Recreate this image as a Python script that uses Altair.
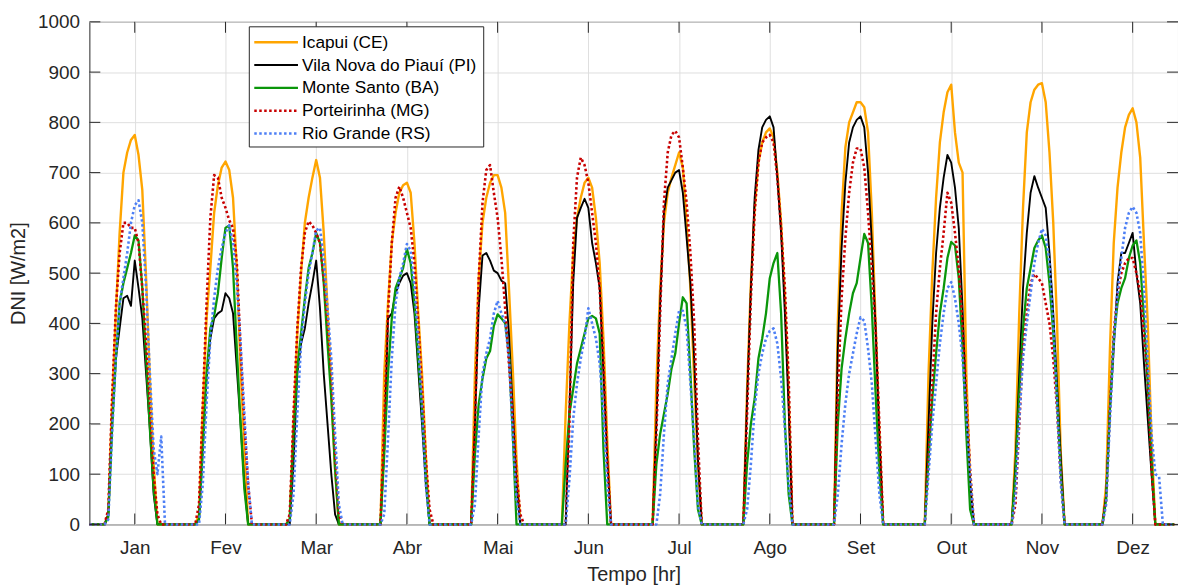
import altair as alt
import pandas as pd

# Mean daily DNI profile for each month (hourly values, W/m2)
MONTHS = ["Jan", "Fev", "Mar", "Abr", "Mai", "Jun", "Jul", "Ago", "Set", "Out", "Nov", "Dez"]
SERIES = ["Icapui (CE)", "Vila Nova do Piauí (PI)", "Monte Santo (BA)",
          "Porteirinha (MG)", "Rio Grande (RS)"]
COLORS = ["#FFA500", "#000000", "#0A960A", "#C80000", "#4D7FF5"]
DOTTED = [False, False, False, True, True]
WIDTHS = [2.4, 1.9, 2.3, 2.6, 2.6]
Y_TICKS = [0, 100, 200, 300, 400, 500, 600, 700, 800, 900, 1000]

# each month lists hours 04..20; the remaining hours are night (0)
FIRST_HOUR = 4

ICAPUI = [
    [0, 20, 240, 420, 580, 700, 740, 765, 775, 735, 665, 490, 290, 120, 0, 0, 0],
    [0, 20, 230, 410, 510, 620, 675, 710, 722, 705, 650, 510, 310, 150, 0, 0, 0],
    [0, 10, 200, 380, 500, 600, 650, 690, 725, 690, 580, 430, 270, 110, 0, 0, 0],
    [0, 0, 300, 440, 560, 620, 660, 675, 680, 660, 560, 420, 300, 140, 0, 0, 0],
    [0, 0, 300, 490, 600, 650, 680, 695, 695, 670, 620, 470, 310, 130, 0, 0, 0],
    [0, 0, 220, 400, 540, 610, 650, 680, 690, 670, 610, 520, 370, 170, 0, 0, 0],
    [0, 0, 280, 470, 600, 660, 690, 715, 740, 710, 600, 470, 290, 120, 0, 0, 0],
    [0, 0, 270, 480, 630, 720, 760, 780, 788, 770, 700, 600, 450, 260, 0, 0, 0],
    [0, 0, 400, 620, 750, 800, 820, 840, 840, 830, 780, 620, 400, 180, 0, 0, 0],
    [0, 0, 300, 500, 650, 760, 820, 860, 875, 780, 720, 700, 300, 90, 0, 0, 0],
    [0, 150, 420, 630, 780, 840, 865, 875, 878, 840, 740, 600, 400, 140, 0, 0, 0],
    [0, 80, 350, 560, 670, 740, 790, 815, 828, 800, 730, 560, 400, 170, 0, 0, 0],
]
VILA_NOVA = [
    [0, 20, 200, 330, 390, 450, 455, 435, 525, 470, 410, 300, 190, 60, 0, 0, 0],
    [0, 10, 150, 290, 370, 410, 420, 425, 460, 450, 420, 310, 200, 80, 0, 0, 0],
    [0, 0, 120, 300, 360, 390, 440, 480, 525, 430, 300, 200, 100, 20, 0, 0, 0],
    [0, 0, 150, 410, 420, 460, 480, 495, 500, 480, 420, 310, 200, 80, 0, 0, 0],
    [0, 0, 200, 430, 535, 540, 525, 505, 500, 485, 480, 380, 230, 80, 0, 0, 0],
    [0, 0, 0, 230, 480, 610, 630, 648, 630, 560, 520, 470, 300, 130, 0, 0, 0],
    [0, 0, 200, 440, 620, 670, 685, 700, 705, 660, 570, 480, 330, 130, 0, 0, 0],
    [0, 0, 250, 470, 650, 745, 790, 805, 812, 790, 690, 580, 420, 230, 0, 0, 0],
    [0, 0, 350, 550, 680, 760, 790, 805, 812, 790, 700, 560, 390, 170, 0, 0, 0],
    [0, 0, 200, 400, 540, 630, 690, 735, 720, 670, 590, 430, 220, 80, 0, 0, 0],
    [0, 120, 300, 470, 580, 660, 693, 670, 650, 630, 540, 420, 280, 130, 0, 0, 0],
    [0, 60, 230, 350, 480, 540, 540, 560, 580, 500, 440, 320, 210, 100, 0, 0, 0],
]
MONTE_SANTO = [
    [0, 15, 190, 330, 440, 480, 510, 540, 575, 565, 470, 330, 190, 70, 0, 0, 0],
    [0, 10, 150, 300, 390, 415, 460, 530, 590, 595, 510, 350, 200, 70, 0, 0, 0],
    [0, 10, 180, 310, 380, 450, 510, 540, 580, 560, 480, 360, 250, 110, 0, 0, 0],
    [0, 0, 140, 300, 410, 470, 490, 510, 548, 520, 440, 330, 230, 100, 0, 0, 0],
    [0, 0, 140, 240, 290, 330, 345, 395, 418, 410, 400, 340, 180, 0, 0, 0, 0],
    [0, 0, 120, 220, 270, 320, 350, 380, 410, 415, 410, 380, 150, 0, 0, 0, 0],
    [0, 0, 120, 180, 220, 260, 310, 340, 400, 452, 440, 300, 150, 30, 0, 0, 0],
    [0, 0, 120, 200, 250, 330, 370, 420, 490, 520, 540, 420, 200, 60, 0, 0, 0],
    [0, 0, 200, 310, 370, 420, 460, 480, 530, 578, 560, 430, 260, 100, 0, 0, 0],
    [0, 0, 130, 250, 340, 420, 470, 530, 562, 555, 490, 350, 180, 30, 0, 0, 0],
    [0, 100, 260, 390, 470, 510, 550, 565, 575, 550, 480, 380, 250, 100, 0, 0, 0],
    [0, 50, 230, 370, 440, 470, 490, 530, 555, 565, 520, 410, 280, 130, 0, 0, 0],
]
PORTEIRINHA = [
    [0, 30, 250, 430, 540, 600, 600, 590, 590, 560, 470, 360, 240, 100, 20, 0, 0],
    [0, 40, 240, 440, 610, 695, 690, 650, 630, 605, 590, 520, 350, 200, 80, 0, 0],
    [0, 20, 220, 390, 510, 580, 603, 595, 580, 560, 490, 400, 300, 140, 20, 0, 0],
    [0, 0, 200, 420, 560, 650, 672, 650, 620, 590, 520, 400, 270, 130, 30, 0, 0],
    [0, 0, 200, 490, 640, 705, 715, 660, 610, 530, 430, 320, 220, 100, 20, 0, 0],
    [0, 0, 0, 200, 560, 690, 730, 715, 680, 620, 560, 470, 320, 130, 0, 0, 0],
    [0, 0, 180, 420, 640, 740, 775, 783, 770, 710, 640, 540, 400, 170, 0, 0, 0],
    [0, 0, 220, 450, 620, 720, 760, 770, 775, 760, 690, 590, 470, 290, 0, 0, 0],
    [0, 0, 260, 450, 570, 660, 720, 748, 748, 710, 620, 510, 390, 200, 0, 0, 0],
    [0, 0, 130, 280, 420, 510, 580, 660, 640, 580, 510, 400, 250, 110, 0, 0, 0],
    [0, 40, 200, 350, 420, 480, 498, 490, 480, 440, 400, 330, 230, 90, 0, 0, 0],
    [0, 50, 230, 380, 460, 500, 520, 530, 530, 500, 460, 380, 290, 110, 0, 0, 0],
]
RIO_GRANDE = [
    [0, 10, 180, 330, 440, 490, 540, 600, 635, 645, 600, 470, 300, 150, 100, 175, 0],
    [0, 0, 80, 240, 370, 450, 510, 550, 580, 595, 560, 480, 360, 220, 80, 0, 0],
    [0, 0, 60, 220, 360, 440, 500, 540, 585, 590, 530, 430, 330, 180, 40, 0, 0],
    [0, 0, 20, 170, 330, 440, 490, 520, 558, 545, 470, 360, 230, 80, 0, 0, 0],
    [0, 0, 40, 180, 300, 340, 370, 420, 445, 420, 400, 330, 180, 50, 0, 0, 0],
    [0, 0, 0, 90, 210, 280, 330, 370, 430, 400, 370, 320, 220, 80, 0, 0, 0],
    [0, 0, 0, 60, 180, 280, 330, 380, 425, 425, 390, 280, 170, 40, 0, 0, 0],
    [0, 0, 30, 120, 230, 300, 340, 370, 385, 390, 360, 290, 190, 80, 0, 0, 0],
    [0, 0, 60, 160, 240, 300, 340, 380, 412, 405, 350, 280, 170, 60, 0, 0, 0],
    [0, 0, 100, 200, 280, 360, 420, 470, 482, 450, 400, 330, 220, 100, 0, 0, 0],
    [0, 60, 210, 330, 400, 460, 520, 560, 588, 575, 520, 400, 240, 80, 0, 0, 0],
    [0, 40, 210, 360, 460, 530, 590, 620, 632, 620, 580, 470, 320, 180, 100, 95, 0],
]
PROFILES = [ICAPUI, VILA_NOVA, MONTE_SANTO, PORTEIRINHA, RIO_GRANDE]

# ---- long table: one row per series and hour of the year-profile ----
rows = []
for name, months in zip(SERIES, PROFILES):
    for m, day in enumerate(months):
        for h in range(24):
            k = h - FIRST_HOUR
            v = day[k] if 0 <= k < len(day) else 0
            rows.append({"serie": name, "t": 24 * m + h, "dni": v})
df = pd.DataFrame(rows)

W, H = 1096, 506
TXT = "#262626"
FONT = "Liberation Sans"
TICK_LEN = 11
month_centers = [24 * i + 12 for i in range(len(MONTHS))]
label_expr = "[" + ",".join(f"'{m}'" for m in MONTHS) + "][floor(datum.value / 24)]"

x_scale = alt.Scale(domain=[0, 24 * len(MONTHS)], nice=False, zero=False)
y_scale = alt.Scale(domain=[0, 1000], nice=False)

x_axis = alt.Axis(values=month_centers, labelExpr=label_expr, grid=True,
                  gridColor="#DFDFDF", gridWidth=1, ticks=False, domain=False,
                  labelFont=FONT, labelFontSize=19, labelColor=TXT, labelPadding=14,
                  labelFlush=False, labelOverlap=False,
                  title="Tempo [hr]", titleFont=FONT, titleFontSize=20,
                  titleColor=TXT, titleFontWeight="normal",
                  titleBaseline="alphabetic", titleY=56)
y_axis = alt.Axis(values=Y_TICKS, grid=True, gridColor="#DFDFDF", gridWidth=1,
                  ticks=False, domain=False, format="d",
                  labelFont=FONT, labelFontSize=19, labelColor=TXT, labelPadding=10,
                  title="DNI [W/m2]", titleFont=FONT, titleFontSize=20,
                  titleColor=TXT, titleFontWeight="normal",
                  titleBaseline="alphabetic", titleX=-65)

X = alt.X("t:Q", scale=x_scale, axis=x_axis)
Y = alt.Y("dni:Q", scale=y_scale, axis=y_axis)

layers = []

# data lines, drawn in legend order (later ones on top)
for name, col, dot, sw in zip(SERIES, COLORS, DOTTED, WIDTHS):
    kw = dict(color=col, strokeWidth=sw, strokeCap="butt", strokeJoin="round")
    if dot:
        kw["strokeDash"] = [2.5, 2.5]
    layers.append(
        alt.Chart(df[df["serie"] == name]).mark_line(**kw).encode(x=X, y=Y)
    )

# inward tick marks on all four sides of the frame
yt = pd.DataFrame({"dni": Y_TICKS})
xt = pd.DataFrame({"t": month_centers})
tick_style = dict(color=TXT, strokeWidth=1)
layers.append(alt.Chart(yt).mark_rule(**tick_style).encode(
    y=Y, x=alt.value(0), x2=alt.value(TICK_LEN)))
layers.append(alt.Chart(yt).mark_rule(**tick_style).encode(
    y=Y, x=alt.value(W - TICK_LEN), x2=alt.value(W)))
layers.append(alt.Chart(xt).mark_rule(**tick_style).encode(
    x=X, y=alt.value(H - TICK_LEN), y2=alt.value(H)))
layers.append(alt.Chart(xt).mark_rule(**tick_style).encode(
    x=X, y=alt.value(0), y2=alt.value(TICK_LEN)))

# legend box
LX0, LX1, LY0, LY1 = 161, 397, 5, 126
layers.append(alt.Chart(alt.Data(values=[{"box": 1}])).mark_rect(
    fill="white", stroke=TXT, strokeWidth=1).encode(
    x=alt.value(LX0), x2=alt.value(LX1), y=alt.value(LY0), y2=alt.value(LY1)))
for i, (name, col, dot, sw) in enumerate(zip(SERIES, COLORS, DOTTED, WIDTHS)):
    ry = 20.5 + 23.0 * i
    kw = dict(color=col, strokeWidth=sw, strokeCap="butt")
    if dot:
        kw["strokeDash"] = [2.5, 2.5]
    entry = alt.Data(values=[{"label": name}])
    layers.append(alt.Chart(entry).mark_rule(**kw).encode(
        x=alt.value(166), x2=alt.value(210), y=alt.value(ry)))
    layers.append(alt.Chart(entry).mark_text(
        align="left", baseline="middle", font=FONT, fontSize=17.4, color="#000000").encode(
        x=alt.value(214), y=alt.value(ry + 0.5), text="label:N"))

chart = alt.layer(*layers).properties(
    width=W, height=H,
    autosize=alt.AutoSizeParams(type="none"),
    padding={"left": 90, "top": 20, "right": 0, "bottom": 60},
    background="white",
).configure_view(stroke=TXT, strokeWidth=1)

chart.save("out.html", embed_options={"renderer": "svg", "actions": False})
